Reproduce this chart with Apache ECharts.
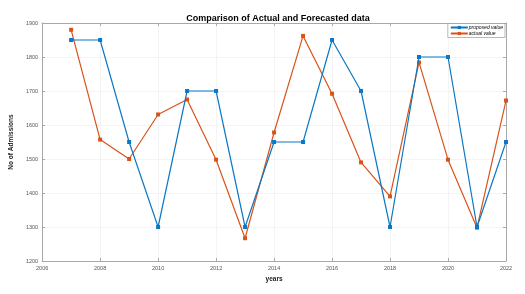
<!DOCTYPE html>
<html><head><meta charset="utf-8">
<script src="https://cdn.jsdelivr.net/npm/echarts@6/dist/echarts.min.js"></script>
<style>html,body{margin:0;padding:0;background:#fff}#c{width:525px;height:294px}</style>
</head><body><div id="c"></div>
<script>
const years = [2007,2008,2009,2010,2011,2012,2013,2014,2015,2016,2017,2018,2019,2020,2021,2022];
const proposed = [1850,1850,1550,1300,1700,1700,1300,1550,1550,1850,1700,1300,1800,1800,1300,1550];
const actual = [1880,1557,1500,1631,1675,1498,1267,1578,1862,1692,1490,1390,1784,1498,1298,1672];
const xTicks = [2006,2008,2010,2012,2014,2016,2018,2020,2022];
const yTicks = [1200,1300,1400,1500,1600,1700,1800,1900];

const chart = echarts.init(document.getElementById('c'));
const axisC = '#a8a8a8';
const lab = {fontSize:5.5, color:'#555', fontFamily:'Liberation Sans'};
function pairs(v){ return years.map((y,i)=>[y,v[i]]); }
chart.setOption({
  animation:false,
  title:{text:'Comparison of Actual and Forecasted data', left:273, top:9, textAlign:'center',
    textStyle:{fontSize:9, fontWeight:'bold', color:'#000', fontFamily:'Liberation Sans'}},
  grid:{left:40, right:19, top:23, bottom:33},
  legend:{right:20, top:23.5, orient:'vertical', itemGap:1, itemWidth:17, itemHeight:4,
    padding:[1.5,2,1.5,2], borderColor:'#888', borderWidth:0.6, backgroundColor:'#fff',
    textStyle:{fontSize:5, fontStyle:'italic', color:'#000', fontFamily:'Liberation Sans', padding:[0,0,0,-4]},
    data:['proposed value','actual value']},
  xAxis:[{type:'value', min:2006, max:2022, interval:2, position:'bottom',
    name:'years', nameLocation:'middle', nameGap:10,
    nameTextStyle:{fontSize:6.5, fontWeight:'bold', color:'#222', fontFamily:'Liberation Sans'},
    axisLine:{show:true, lineStyle:{color:axisC, width:1}},
    axisTick:{show:true, inside:true, length:3, lineStyle:{color:axisC}},
    axisLabel:Object.assign({margin:4, formatter:v=>String(v)}, lab),
    splitLine:{show:true, lineStyle:{color:'#ececec', width:0.6}}},
   {type:'value', min:2006, max:2022, interval:2, position:'top',
    axisLine:{show:true, lineStyle:{color:axisC, width:1}},
    axisTick:{show:true, inside:true, length:3, lineStyle:{color:axisC}},
    axisLabel:{show:false}, splitLine:{show:false}}],
  yAxis:[{type:'value', min:1200, max:1900, interval:100, position:'left',
    name:'No of Admissions', nameLocation:'middle', nameGap:19,
    nameTextStyle:{fontSize:6.5, fontWeight:'bold', color:'#222', fontFamily:'Liberation Sans'},
    axisLine:{show:true, lineStyle:{color:axisC, width:1}},
    axisTick:{show:true, inside:true, length:3, lineStyle:{color:axisC}},
    axisLabel:Object.assign({margin:4, formatter:v=>String(v)}, lab),
    splitLine:{show:true, lineStyle:{color:'#ececec', width:0.6}}},
   {type:'value', min:1200, max:1900, interval:100, position:'right',
    axisLine:{show:true, lineStyle:{color:axisC, width:1}},
    axisTick:{show:true, inside:true, length:3, lineStyle:{color:axisC}},
    axisLabel:{show:false}, splitLine:{show:false}}],
  series:[
    {name:'proposed value', type:'line', data:pairs(proposed), symbol:'rect', symbolSize:4,
      lineStyle:{color:'#0a78c4', width:1.2}, itemStyle:{color:'#0a78c4'}, z:3},
    {name:'actual value', type:'line', data:pairs(actual), symbol:'rect', symbolSize:4,
      lineStyle:{color:'#D95319', width:1.2}, itemStyle:{color:'#D95319'}, z:2}
  ]
});
</script></body></html>
